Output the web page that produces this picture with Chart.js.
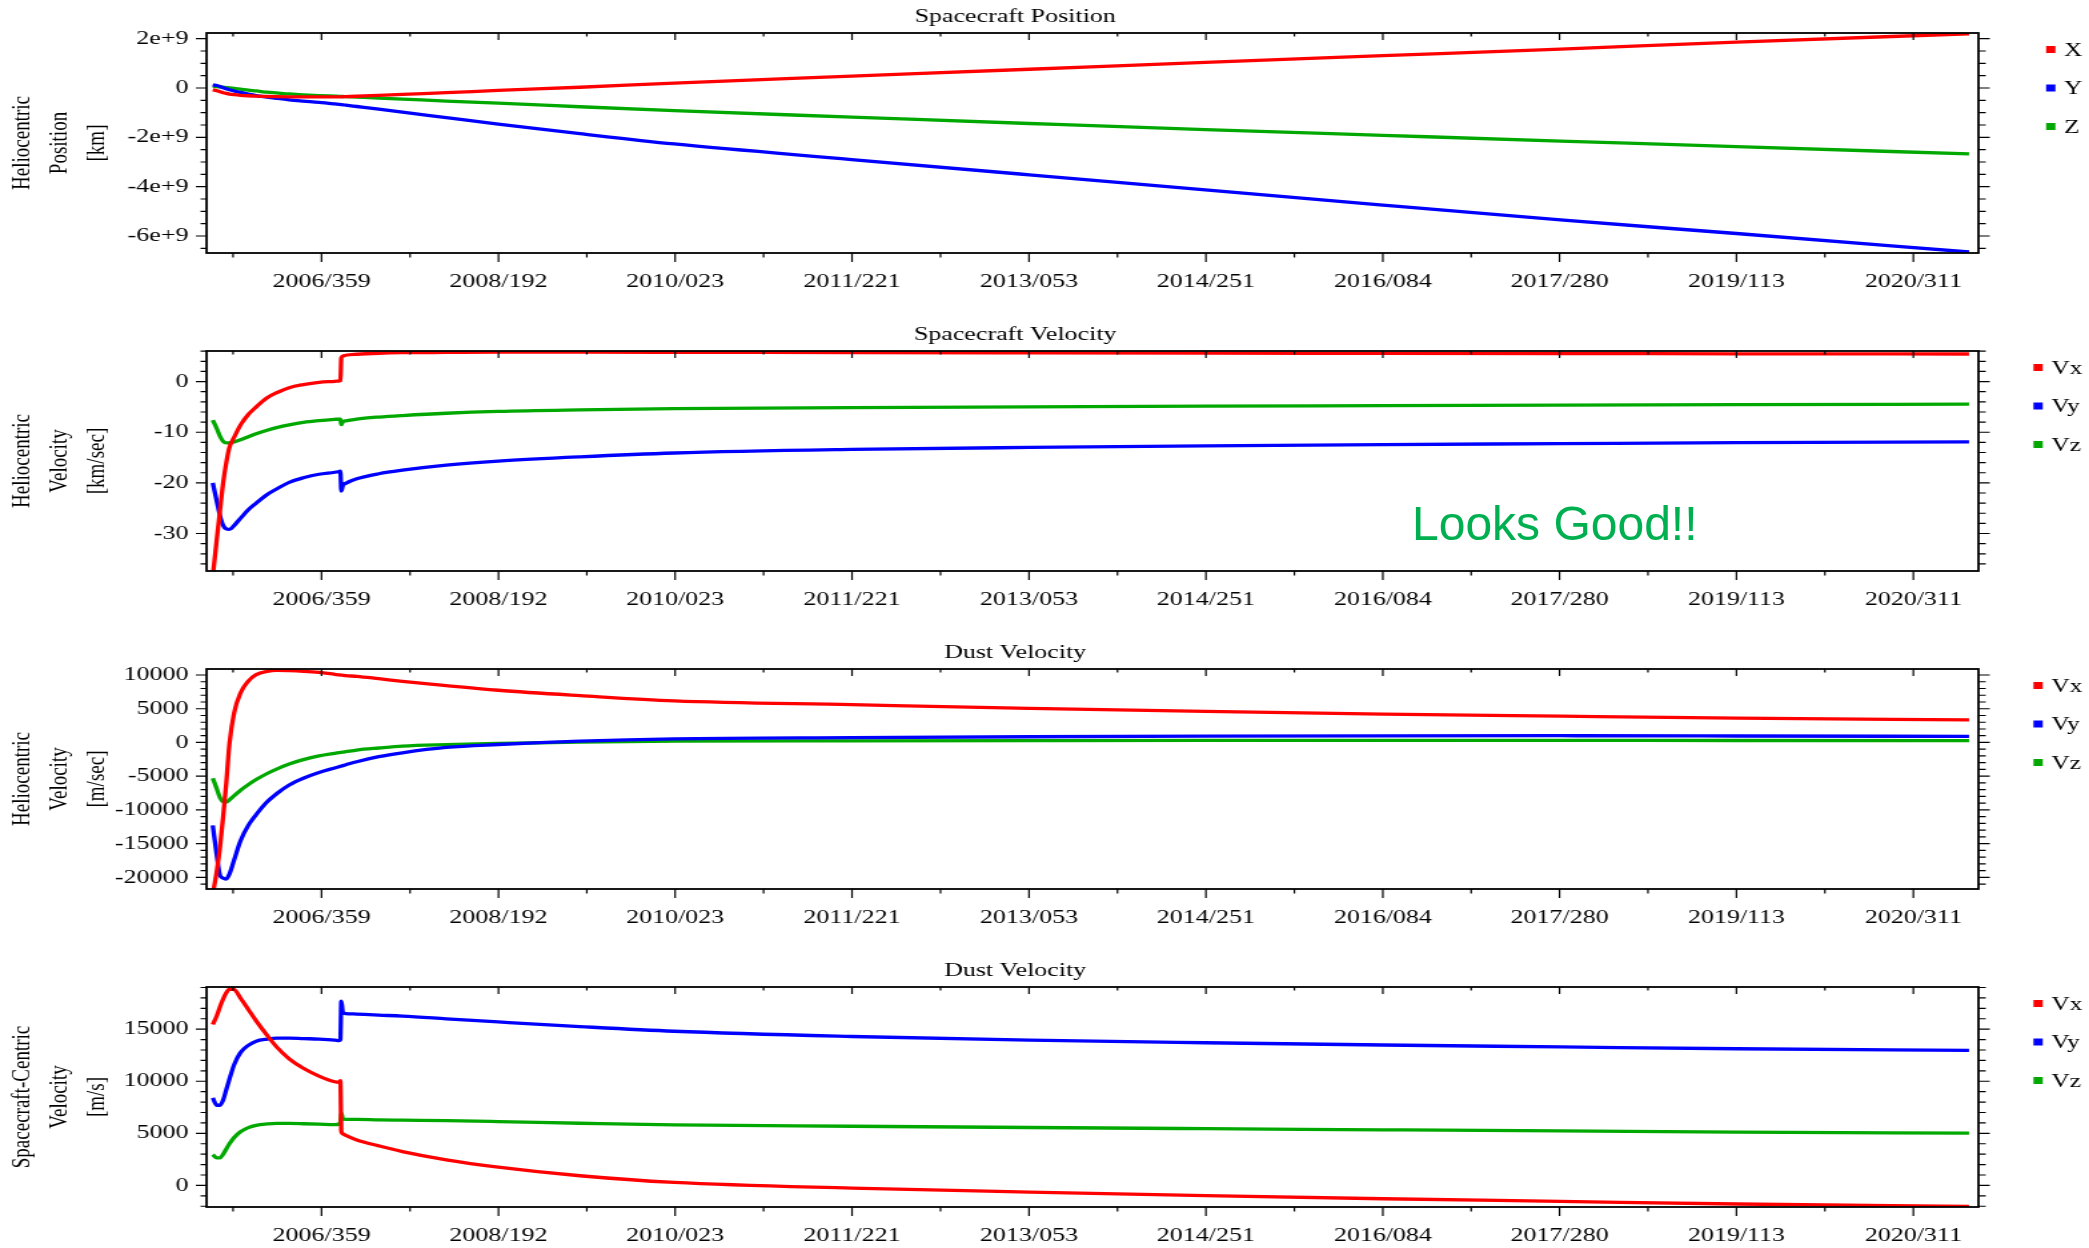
<!DOCTYPE html>
<html>
<head>
<meta charset="utf-8">
<title>Spacecraft position and dust velocity</title>
<script src="https://cdn.jsdelivr.net/npm/chart.js@4.4.1/dist/chart.umd.min.js"></script>
<style>
  html, body { margin: 0; padding: 0; background: #fff; width: 2089px; height: 1248px; overflow: hidden; }
  canvas.panel { position: absolute; left: 0; }
  #note {
    position: absolute; left: 1412px; top: 500px;
    font: 48px/1 "Liberation Sans", Arial, sans-serif;
    color: #00B050; white-space: nowrap;
  }
</style>
</head>
<body>
<!-- each panel is rendered at 1568 px and widened to the page width -->
<canvas id="pos" class="panel" width="1568" height="300" style="top:0px;width:2089px;height:300px"></canvas>
<canvas id="scv" class="panel" width="1568" height="300" style="top:318px;width:2089px;height:300px"></canvas>
<canvas id="dhv" class="panel" width="1568" height="300" style="top:636px;width:2089px;height:300px"></canvas>
<canvas id="dsv" class="panel" width="1568" height="300" style="top:954px;width:2089px;height:300px"></canvas>
<div id="note">Looks Good!!</div>
<script>
// ---- time axis: sample epochs in days after 2006/001, and the YYYY/DDD tick labels ----
const days = [12, 25, 35, 45, 55, 65, 80, 100, 125, 150, 185, 215, 255, 300, 350, 400, 414, 418, 421, 426,
              435, 470, 540, 615, 755, 920, 1180, 1480, 2045, 2610, 3170, 3735, 4300, 4860, 5600];
const dateLabels = ['2006/359', '2008/192', '2010/023', '2011/221', '2013/053',
                    '2014/251', '2016/084', '2017/280', '2019/113', '2020/311'];
const X_MIN = -8, X_MAX = 5630;

// ---- Spacecraft Position, heliocentric [km] ----
const posX = [-0.08e9, -0.11e9, -0.15e9, -0.19e9, -0.22e9, -0.245e9, -0.27e9, -0.295e9, -0.315e9, -0.33e9,
              -0.345e9, -0.352e9, -0.357e9, -0.36e9, -0.36e9, -0.36e9, -0.358e9, -0.357e9, -0.356e9, -0.354e9,
              -0.35e9, -0.335e9, -0.30e9, -0.26e9, -0.19e9, -0.10e9, 0.03e9, 0.20e9, 0.48e9, 0.76e9,
              1.04e9, 1.31e9, 1.58e9, 1.86e9, 2.20e9];
const posY = [0.13e9, 0.10e9, 0.06e9, 0.01e9, -0.03e9, -0.07e9, -0.12e9, -0.18e9, -0.25e9, -0.31e9,
              -0.37e9, -0.42e9, -0.48e9, -0.53e9, -0.58e9, -0.645e9, -0.665e9, -0.67e9, -0.675e9, -0.68e9,
              -0.695e9, -0.75e9, -0.86e9, -0.98e9, -1.20e9, -1.46e9, -1.85e9, -2.27e9, -2.90e9, -3.52e9,
              -4.13e9, -4.75e9, -5.35e9, -5.90e9, -6.65e9];
const posZ = [0.07e9, 0.06e9, 0.05e9, 0.035e9, 0.02e9, 0.005e9, -0.02e9, -0.05e9, -0.09e9, -0.12e9,
              -0.17e9, -0.20e9, -0.24e9, -0.275e9, -0.305e9, -0.33e9, -0.337e9, -0.34e9, -0.342e9, -0.345e9,
              -0.35e9, -0.37e9, -0.41e9, -0.45e9, -0.53e9, -0.61e9, -0.76e9, -0.92e9, -1.18e9, -1.44e9,
              -1.69e9, -1.92e9, -2.15e9, -2.38e9, -2.67e9];
const posTicks = [-6e9, -4e9, -2e9, 0, 2e9];
const posTickLabels = ['-6e+9', '-4e+9', '-2e+9', '0', '2e+9'];

// ---- Spacecraft Velocity, heliocentric [km/sec] ----
const scVx = [-38.5, -31, -25.5, -20, -16, -13, -11, -8.6, -6.5, -5.0,
              -3.2, -2.2, -1.2, -0.6, -0.15, 0.05, 0.12, 0.18, 4.7, 5.05,
              5.2, 5.4, 5.6, 5.7, 5.75, 5.8, 5.8, 5.78, 5.72, 5.67,
              5.62, 5.57, 5.53, 5.49, 5.45];
const scVy = [-20.0, -23.7, -26.5, -28.4, -29.1, -29.2, -28.4, -27.0, -25.3, -24.0,
              -22.3, -21.2, -19.9, -19.0, -18.3, -17.9, -17.75, -17.7, -21.6, -20.5,
              -20.1, -19.2, -18.2, -17.5, -16.5, -15.7, -14.85, -14.1, -13.4, -13.0,
              -12.7, -12.45, -12.25, -12.05, -11.9];
const scVz = [-7.6, -9.3, -10.8, -11.8, -12.1, -12.1, -11.9, -11.5, -10.9, -10.3,
              -9.6, -9.1, -8.55, -8.05, -7.7, -7.45, -7.4, -7.4, -8.5, -7.9,
              -7.75, -7.4, -7.0, -6.7, -6.25, -5.9, -5.6, -5.35, -5.15, -5.0,
              -4.85, -4.75, -4.65, -4.55, -4.45];
const scvTicks = [-30, -20, -10, 0];
const scvTickLabels = ['-30', '-20', '-10', '0'];

// ---- Dust Velocity, heliocentric [m/sec] ----
const dustHx = [-22500, -19000, -15500, -11000, -6000, -200, 4400, 7300, 9100, 10050,
                10550, 10700, 10650, 10550, 10380, 10100, 10020, 10000, 9990, 9960,
                9910, 9800, 9450, 9060, 8420, 7740, 6950, 6170, 5600, 5050,
                4600, 4200, 3900, 3620, 3350];
const dustHy = [-12300, -16800, -19700, -20100, -20250, -19500, -17400, -14600, -12300, -10700,
                -8800, -7600, -6300, -5300, -4450, -3780, -3600, -3540, -3500, -3430,
                -3310, -2850, -2100, -1530, -740, -300, 200, 540, 720, 850,
                940, 990, 1000, 960, 900];
const dustHz = [-5300, -6900, -8200, -8800, -8850, -8500, -7900, -7100, -6250, -5500,
                -4600, -3950, -3200, -2550, -2000, -1610, -1510, -1480, -1460, -1420,
                -1360, -1120, -820, -540, -320, -150, 50, 200, 250, 280,
                300, 300, 300, 290, 280];
const dhvTicks = [-20000, -15000, -10000, -5000, 0, 5000, 10000];
const dhvTickLabels = ['-20000', '-15000', '-10000', '-5000', '0', '5000', '10000'];

// ---- Dust Velocity, spacecraft-centric [m/s] ----
const dustSx = [15450, 16300, 17150, 17900, 18500, 18850, 18800, 18000, 16900, 15800,
                14400, 13300, 12150, 11250, 10500, 9950, 9900, 10050, 5200, 4950,
                4800, 4370, 3800, 3250, 2460, 1760, 930, 290, -260, -640,
                -980, -1280, -1530, -1780, -2010];
const dustSy = [8400, 7700, 7700, 8200, 9200, 10200, 11600, 12750, 13450, 13850,
                14050, 14150, 14150, 14100, 14050, 13950, 13900, 14000, 17700, 16600,
                16500, 16450, 16350, 16250, 16000, 15700, 15250, 14800, 14300, 13950,
                13700, 13480, 13300, 13120, 12970];
const dustSz = [2950, 2650, 2650, 3000, 3500, 4000, 4600, 5150, 5550, 5770,
                5900, 5960, 5950, 5920, 5880, 5830, 5900, 6100, 6950, 6400,
                6350, 6350, 6300, 6270, 6220, 6130, 5970, 5810, 5680, 5560,
                5450, 5340, 5230, 5110, 5020];
const dsvTicks = [0, 5000, 10000, 15000];
const dsvTickLabels = ['0', '5000', '10000', '15000'];

// ---- helpers ----
const EPOCH = Date.UTC(2006, 0, 1);
function dayNumber(label) {
  const [yr, doy] = label.split('/').map(Number);
  return (Date.UTC(yr, 0, doy) - EPOCH) / 86400000;
}
const dateTicks = dateLabels.map(dayNumber);

const SERIF = '"Liberation Serif", "Times New Roman", serif';
const RED = '#ff0000', BLUE = '#0000ff', GREEN = '#00a800';
Chart.defaults.font.family = SERIF;
Chart.defaults.color = '#000';

// frame, tick marks, panel title and legend
const panelFrame = {
  id: 'panelFrame',
  afterDraw(chart, args, opts) {
    const { ctx, chartArea: a, scales: { x, y } } = chart;
    ctx.save();
    ctx.strokeStyle = '#000';
    ctx.lineWidth = 1.2;
    ctx.beginPath();

    const xs = x.ticks.map(t => t.value);
    const xStep = xs[1] - xs[0];
    const xMinor = [xs[0] - xStep / 2]
      .concat(xs.slice(1).map((v, i) => (v + xs[i]) / 2))
      .concat([xs[xs.length - 1] + xStep / 2])
      .filter(v => v > x.min && v < x.max);
    xs.forEach(v => {
      const p = x.getPixelForValue(v);
      ctx.moveTo(p, a.bottom); ctx.lineTo(p, a.bottom + 9);
      ctx.moveTo(p, a.top); ctx.lineTo(p, a.top + 7);
    });
    xMinor.forEach(v => {
      const p = x.getPixelForValue(v);
      ctx.moveTo(p, a.bottom); ctx.lineTo(p, a.bottom + 4.5);
      ctx.moveTo(p, a.top); ctx.lineTo(p, a.top + 3.5);
    });

    const ys = y.ticks.map(t => t.value);
    ys.forEach(v => {
      const p = y.getPixelForValue(v);
      ctx.moveTo(a.left - 8, p); ctx.lineTo(a.left, p);
      ctx.moveTo(a.right, p); ctx.lineTo(a.right + 8.5, p);
    });
    const step = opts.yMinorStep;
    for (let k = Math.ceil(y.min / step); k * step <= y.max; k++) {
      const v = k * step;
      if (ys.some(m => Math.abs(m - v) < step * 1e-3)) continue;
      const p = y.getPixelForValue(v);
      ctx.moveTo(a.left - 4.5, p); ctx.lineTo(a.left, p);
      ctx.moveTo(a.right, p); ctx.lineTo(a.right + 5.5, p);
    }
    ctx.stroke();

    ctx.lineWidth = 1.8;
    ctx.strokeRect(a.left, a.top, a.right - a.left, a.bottom - a.top);

    ctx.fillStyle = '#000';
    ctx.font = '19.5px ' + SERIF;
    ctx.textAlign = 'center';
    ctx.textBaseline = 'alphabetic';
    ctx.fillText(opts.title, 762, a.top - 10.8);

    ctx.font = '19px ' + SERIF;
    ctx.textAlign = 'left';
    ctx.textBaseline = 'middle';
    const items = chart.data.datasets;
    const textW = Math.max(...items.map(d => ctx.measureText(d.label).width));
    const box = 7, gap = 5, rightEdge = 1563;
    const left = rightEdge - textW - gap - box;
    items.forEach((d, i) => {
      const cy = a.top + 16.5 + i * 38.5;
      ctx.fillStyle = d.borderColor;
      ctx.fillRect(left - 1.5, cy - box / 2, box, box);
      ctx.fillStyle = '#000';
      ctx.fillText(d.label, left + box + gap, cy + 1.5);
    });
    ctx.restore();
  }
};

function makePanel(id, cfg) {
  return new Chart(document.getElementById(id), {
    type: 'line',
    data: {
      datasets: cfg.series.map(s => ({
        label: s.label,
        data: days.map((d, i) => ({ x: d, y: s.values[i] })),
        borderColor: s.color,
        backgroundColor: s.color,
        borderWidth: 3.3,
        pointRadius: 0,
        fill: false,
        cubicInterpolationMode: 'monotone'
      }))
    },
    options: {
      responsive: false,
      animation: false,
      events: [],
      layout: { padding: { top: 33, right: 83, bottom: 0, left: 0 } },
      plugins: {
        legend: { display: false },
        tooltip: { enabled: false },
        panelFrame: { title: cfg.title, yMinorStep: cfg.yMinorStep }
      },
      scales: {
        x: {
          type: 'linear', position: 'bottom', min: X_MIN, max: X_MAX,
          grid: { display: false, drawTicks: false, tickLength: 0 },
          border: { display: false },
          afterBuildTicks: sc => { sc.ticks = dateTicks.map(v => ({ value: v })); },
          afterFit: sc => { sc.height = 47; },
          ticks: {
            autoSkip: false, maxRotation: 0, minRotation: 0, padding: 17,
            font: { size: 19.5 },
            callback: (v, i) => dateLabels[i]
          }
        },
        y: {
          type: 'linear', position: 'left', min: cfg.yMin, max: cfg.yMax,
          grid: { display: false, drawTicks: false, tickLength: 0 },
          border: { display: false },
          afterBuildTicks: sc => { sc.ticks = cfg.yTicks.map(v => ({ value: v })); },
          afterFit: sc => { sc.width = 155; },
          ticks: {
            autoSkip: false, padding: 13.5,
            font: { size: 19.5 },
            callback: (v, i) => cfg.yLabels[i]
          },
          title: {
            display: true, text: cfg.yTitle,
            font: { size: 19, lineHeight: 1.48 },
            padding: { top: 2.5, bottom: 0 }
          }
        }
      }
    },
    plugins: [panelFrame]
  });
}

makePanel('pos', {
  title: 'Spacecraft Position',
  yTitle: ['Heliocentric', 'Position', '[km]'],
  yMin: -6.69e9, yMax: 2.23e9, yTicks: posTicks, yLabels: posTickLabels, yMinorStep: 0.5e9,
  series: [
    { label: 'X', values: posX, color: RED },
    { label: 'Y', values: posY, color: BLUE },
    { label: 'Z', values: posZ, color: GREEN }
  ]
});

makePanel('scv', {
  title: 'Spacecraft Velocity',
  yTitle: ['Heliocentric', 'Velocity', '[km/sec]'],
  yMin: -37.4, yMax: 6.04, yTicks: scvTicks, yLabels: scvTickLabels, yMinorStep: 2,
  series: [
    { label: 'Vx', values: scVx, color: RED },
    { label: 'Vy', values: scVy, color: BLUE },
    { label: 'Vz', values: scVz, color: GREEN }
  ]
});

makePanel('dhv', {
  title: 'Dust Velocity',
  yTitle: ['Heliocentric', 'Velocity', '[m/sec]'],
  yMin: -21720, yMax: 10890, yTicks: dhvTicks, yLabels: dhvTickLabels, yMinorStep: 1000,
  series: [
    { label: 'Vx', values: dustHx, color: RED },
    { label: 'Vy', values: dustHy, color: BLUE },
    { label: 'Vz', values: dustHz, color: GREEN }
  ]
});

makePanel('dsv', {
  title: 'Dust Velocity',
  yTitle: ['Spacecraft-Centric', 'Velocity', '[m/s]'],
  yMin: -2070, yMax: 19050, yTicks: dsvTicks, yLabels: dsvTickLabels, yMinorStep: 1000,
  series: [
    { label: 'Vx', values: dustSx, color: RED },
    { label: 'Vy', values: dustSy, color: BLUE },
    { label: 'Vz', values: dustSz, color: GREEN }
  ]
});
</script>
</body>
</html>
